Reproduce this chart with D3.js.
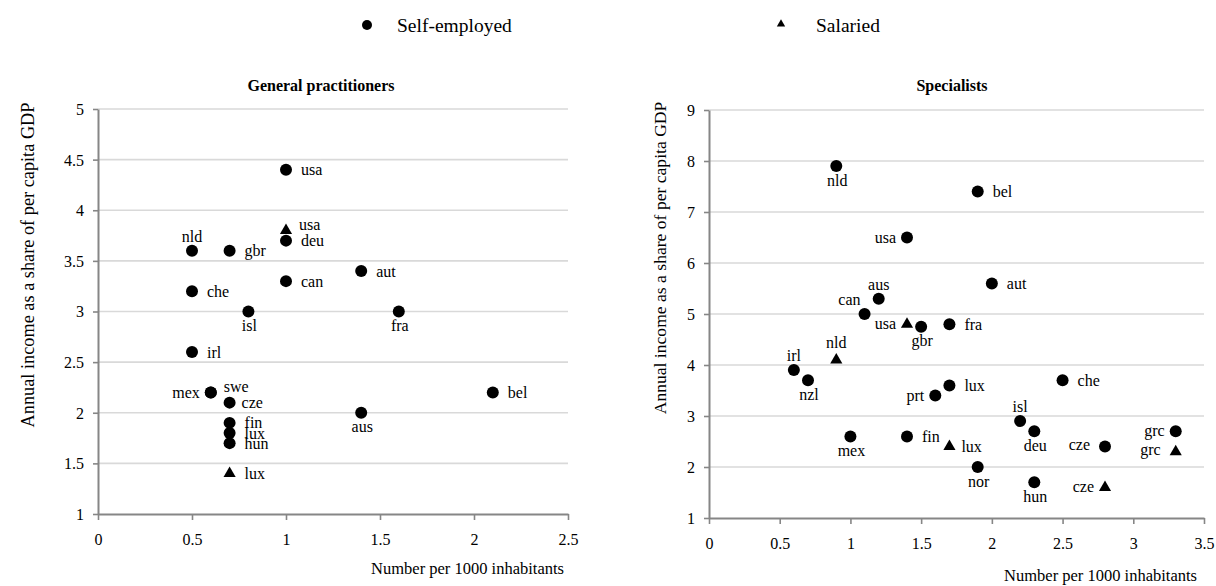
<!DOCTYPE html>
<html><head><meta charset="utf-8">
<script src="https://cdn.jsdelivr.net/npm/d3@7"></script>
<style>body{margin:0;background:#fff}</style>
</head><body><svg id="c" width="1216" height="586"></svg>
<script>
// General practitioners
const gpCountries = ["usa","nld","gbr","deu","che","can","aut","isl","fra","irl","mex","swe","cze","fin","lux","hun","aus","bel","usa","lux"];
const gpType      = ["S","S","S","S","S","S","S","S","S","S","S","S","S","S","S","S","S","S","W","W"];
const gpDensity   = [1.0,0.5,0.7,1.0,0.5,1.0,1.4,0.8,1.6,0.5,0.6,0.6,0.7,0.7,0.7,0.7,1.4,2.1,1.0,0.7];
const gpIncome    = [4.4,3.6,3.6,3.7,3.2,3.3,3.4,3.0,3.0,2.6,2.2,2.2,2.1,1.9,1.8,1.7,2.0,2.2,3.8,1.4];
const gpLabelPos  = ["r","a","r","r","r","r","r","b","b","r","l","ar","rn","r","r","r","b","r","ar","r"];
// Specialists
const spCountries = ["nld","bel","usa","aut","aus","can","gbr","fra","irl","nzl","lux","prt","che","isl","deu","mex","fin","nor","hun","cze","grc","usa","nld","lux","grc","cze"];
const spType      = ["S","S","S","S","S","S","S","S","S","S","S","S","S","S","S","S","S","S","S","S","S","W","W","W","W","W"];
const spDensity   = [0.9,1.9,1.4,2.0,1.2,1.1,1.5,1.7,0.6,0.7,1.7,1.6,2.5,2.2,2.3,1.0,1.4,1.9,2.3,2.8,3.3,1.4,0.9,1.7,3.3,2.8];
const spIncome    = [7.9,7.4,6.5,5.6,5.3,5.0,4.75,4.8,3.9,3.7,3.6,3.4,3.7,2.9,2.7,2.6,2.6,2.0,1.7,2.4,2.7,4.8,4.1,2.4,2.3,1.6];
const spLabelPos  = ["b","r","l","r","a","al","b","r","a","b","r","l","r","a","b","b","r","b","b","lw","l","l","at","rn","lw","l"];
const gpXTicks = [0,0.5,1,1.5,2,2.5], gpYTicks = [1,1.5,2,2.5,3,3.5,4,4.5,5];
const spXTicks = [0,0.5,1,1.5,2,2.5,3,3.5], spYTicks = [1,2,3,4,5,6,7,8,9];
const seriesNames = ["Self-employed","Salaried"];
const yTitle = "Annual income as a share of per capita GDP";
const xTitle = "Number per 1000 inhabitants";

const FONT = '"Liberation Serif", "Times New Roman", serif';
const svg = d3.select("#c");
const tri = d3.symbol().type(d3.symbolTriangle).size(64)();
const triSmall = d3.symbol().type(d3.symbolTriangle).size(30)();

function panel(o){
  const x = d3.scaleLinear().domain([o.xTicks[0], o.xTicks[o.xTicks.length-1]]).range([o.x0,o.x1]);
  const y = d3.scaleLinear().domain([o.yTicks[0], o.yTicks[o.yTicks.length-1]]).range([o.y1,o.y0]);
  const g = svg.append("g");
  g.selectAll(".grid").data(o.yTicks.slice(1)).join("line")
    .attr("x1",o.x0).attr("x2",o.x1).attr("y1",d=>y(d)).attr("y2",d=>y(d))
    .attr("stroke","#d9d9d9").attr("stroke-width",1.6);
  const yAx = g.append("g").attr("transform",`translate(${o.x0},0)`)
    .call(d3.axisLeft(y).tickValues(o.yTicks).tickSize(5).tickSizeOuter(0).tickFormat(d=>d));
  const xAx = g.append("g").attr("transform",`translate(0,${o.y1})`)
    .call(d3.axisBottom(x).tickValues(o.xTicks).tickSize(6).tickSizeOuter(0).tickFormat(d=>d));
  [yAx,xAx].forEach(a=>{
    a.attr("font-size",16);
    a.select(".domain").attr("stroke","#868686").attr("stroke-width",2);
    a.selectAll(".tick line").attr("stroke","#868686").attr("stroke-width",1.6);
    a.selectAll("text").attr("fill","#000");
  });
  yAx.selectAll("text").attr("x",-14).attr("dy","0.34em");
  xAx.selectAll("text").attr("y",31).attr("dy",0);
  g.append("text").attr("x",o.titleX).attr("y",91).attr("text-anchor","middle")
    .attr("font-weight","bold").attr("font-size",16).text(o.title);
  g.append("text").attr("transform",`translate(${o.yTitleX},${o.yTitleY}) rotate(-90)`)
    .attr("text-anchor","middle").attr("font-size",o.yTitleSize).text(yTitle);
  g.append("text").attr("x",o.xTitleEnd).attr("y",o.xTitleY).attr("text-anchor","end").attr("font-size",16.5).text(xTitle);
  const pts = o.c.map((c,i)=>({c, t:o.t[i], x:o.dx[i], y:o.dy[i], p:o.lp[i]}));
  g.selectAll(".circ").data(pts.filter(d=>d.t==="S")).join("circle")
    .attr("cx",d=>x(d.x)).attr("cy",d=>y(d.y)).attr("r",6).attr("fill","#000");
  g.selectAll(".tri").data(pts.filter(d=>d.t==="W")).join("path")
    .attr("d",tri).attr("transform",d=>`translate(${x(d.x)},${y(d.y)})`).attr("fill","#000");
  const off = {r:[15,5.5,"start"], rn:[12,5,"start"], l:[-11,5,"end"], lw:[-15,3,"end"],
               a:[0,-9,"middle"], at:[0,-12,"middle"], b:[1,19.5,"middle"],
               ar:[13,-1,"start"], al:[-4,-9,"end"]};
  g.selectAll(".lab").data(pts).join("text")
    .attr("x",d=>x(d.x)+off[d.p][0]).attr("y",d=>y(d.y)+off[d.p][1])
    .attr("text-anchor",d=>off[d.p][2]).attr("font-size",16).text(d=>d.c);
}
panel({x0:98,x1:568,y0:109,y1:514,xTicks:gpXTicks,yTicks:gpYTicks,title:"General practitioners",titleX:321,
  yTitleX:34,yTitleY:265,yTitleSize:18.3,xTitleEnd:564,xTitleY:574,c:gpCountries,t:gpType,dx:gpDensity,dy:gpIncome,lp:gpLabelPos});
panel({x0:709,x1:1204,y0:110,y1:518,xTicks:spXTicks,yTicks:spYTicks,title:"Specialists",titleX:952,
  yTitleX:666,yTitleY:258,yTitleSize:17.6,xTitleEnd:1197,xTitleY:581,c:spCountries,t:spType,dx:spDensity,dy:spIncome,lp:spLabelPos});
const lg = svg.append("g");
lg.append("circle").attr("cx",367).attr("cy",25).attr("r",5).attr("fill","#000");
lg.append("text").attr("x",397).attr("y",32).attr("font-size",19.5).text(seriesNames[0]);
lg.append("path").attr("d",triSmall).attr("transform","translate(781,24)").attr("fill","#000");
lg.append("text").attr("x",816).attr("y",32).attr("font-size",19.5).text(seriesNames[1]);
svg.selectAll("text").style("font-family",FONT);
</script></body></html>
